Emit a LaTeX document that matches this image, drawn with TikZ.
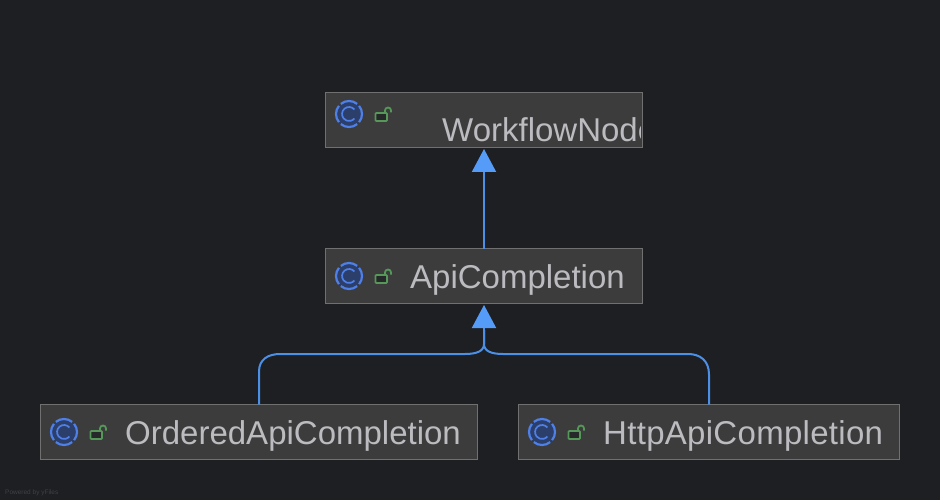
\documentclass[tikz,border=0pt]{standalone}
\usepackage{fontspec}
\setmainfont{Liberation Sans}
\usetikzlibrary{arrows.meta}
\definecolor{bgc}{HTML}{1E1F22}
\definecolor{boxc}{HTML}{3C3C3C}
\definecolor{edgec}{HTML}{707070}
\definecolor{textc}{HTML}{BBBBC0}
\definecolor{linec}{HTML}{4C8FE6}
\definecolor{tipc}{HTML}{549CF8}
\definecolor{iconc}{HTML}{4F80E8}
\definecolor{iconf}{HTML}{2C3F6B}
\definecolor{lockc}{HTML}{55985A}
\definecolor{wmc}{HTML}{404145}
\tikzset{
  x=1pt,y=-1pt,
  classbox/.style={draw=edgec,fill=boxc,line width=1.2pt,minimum height=55pt,inner sep=0pt,outer sep=0pt},
  classname/.style={text=textc,anchor=base west,inner sep=0pt,font=\fontsize{33}{36}\selectfont},
  inherit/.style={draw=linec,line width=2pt},
  inherittip/.style={-{Triangle[length=23pt,width=24pt,fill=tipc,color=tipc]},shorten >=1.5pt},
  pics/classicon/.style={code={
    \fill[iconf] (0,0) circle[radius=13];
    \foreach \a in {45,135,225,315}{
      \draw[iconc,line width=2.2pt] (\a+6:13) arc[start angle=\a+6,end angle=\a+84,radius=13];
    }
    \draw[iconc,line width=1.7pt] (5.4,-4.5) arc[start angle=-40,end angle=-320,radius=7];
  }},
  pics/lockicon/.style={code={
    \draw[lockc,line width=1.8pt,fill=bgc!70!boxc,rounded corners=0.8pt] (-6.5,-1) rectangle (5,7);
    \draw[lockc,line width=1.8pt] (3,-1) -- (3,-3.5) arc[start angle=180,end angle=360,radius=3] -- (9,-1.5);
  }}
}
\begin{document}
\begin{tikzpicture}
\useasboundingbox (0,0) rectangle (940,500);
\fill[bgc] (0,0) rectangle (940,500);

\node[classbox,minimum width=317pt] (top) at (484,120) {};
\node[classbox,minimum width=317pt] (mid) at (484,276) {};
\node[classbox,minimum width=437pt] (left) at (259,432) {};
\node[classbox,minimum width=381pt] (right) at (709,432) {};

\begin{scope}
\clip (326,93) rectangle (640,147);
\node[classname] (ttop) at (442,142) {WorkflowNode};
\end{scope}
\node[classname] (tmid) at (410,288) {ApiCompletion};
\node[classname] (tleft) at (125,444) {OrderedApiCompletion};
\node[classname] (tright) at (603,444) {\addfontfeatures{LetterSpace=0.9}HttpApiCompletion};

\pic at (349,114) {classicon};
\pic at (382,114) {lockicon};
\pic at (349,276) {classicon};
\pic at (382,276) {lockicon};
\pic at (64,432) {classicon};
\pic at (97,432) {lockicon};
\pic at (542,432) {classicon};
\pic at (575,432) {lockicon};

\draw[inherit,inherittip] (mid.north) -- (top.south);
\coordinate (join) at (484,330);
\draw[inherit] (left.north) -- ++(0,-33) .. controls ++(0,-12) and (268,354) .. (280,354) -- (465,354) .. controls (477,354) and (484,351) .. (484,344) -- (join);
\draw[inherit] (right.north) -- ++(0,-30) .. controls ++(0,-14) and (700,354) .. (688,354) -- (503,354) .. controls (491,354) and (484,351) .. (484,344) -- (join);
\draw[inherit,inherittip] (join) -- (mid.south);

\node[text=wmc,anchor=base west,inner sep=0pt,font=\fontsize{6.5}{8}\selectfont] (wm) at (5,494) {Powered by yFiles};
\end{tikzpicture}
\end{document}
